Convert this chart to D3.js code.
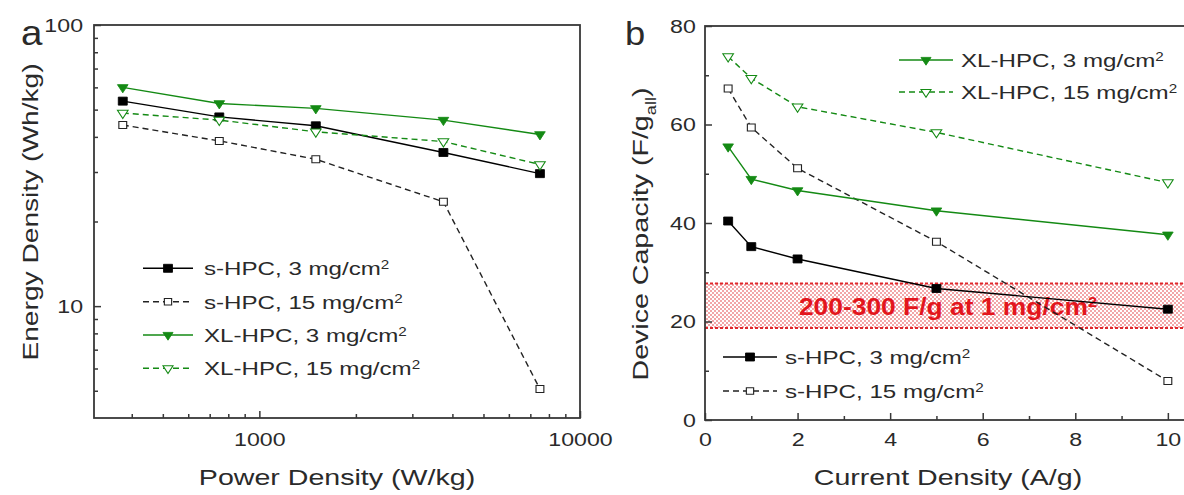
<!DOCTYPE html>
<html>
<head>
<meta charset="utf-8">
<script src="https://cdn.jsdelivr.net/npm/d3@7"></script>
<style>
  body { margin: 0; background: #fff; }
  svg { display: block; font-family: "Liberation Sans", Arial, sans-serif; }
</style>
</head>
<body>
<script>
// ---- Panel a: Ragone plot (log-log) ----
const powerDensity = [375, 750, 1500, 3750, 7500];          // W/kg
const energySHPC3  = [53.6, 47.1, 43.8, 35.2, 29.6];        // Wh/kg
const energySHPC15 = [44.1, 38.7, 33.3, 23.5, 5.07];
const energyXL3    = [60.0, 52.6, 50.5, 45.9, 40.8];
const energyXL15   = [48.6, 45.9, 41.7, 38.5, 31.9];
const powerTicks      = [1000, 10000];
const powerMinorTicks = [400, 500, 600, 700, 800, 900, 2000, 3000, 4000, 5000, 6000, 7000, 8000, 9000];
const energyTicks      = [10, 100];
const energyMinorTicks = [5, 6, 7, 8, 9, 20, 30, 40, 50, 60, 70, 80, 90];

// ---- Panel b: rate capability ----
const currentDensity = [0.5, 1, 2, 5, 10];                  // A/g
const capSHPC3  = [40.4, 35.2, 32.7, 26.7, 22.5];           // F/g_all
const capSHPC15 = [67.3, 59.4, 51.1, 36.2, 7.9];
const capXL3    = [55.5, 48.9, 46.6, 42.5, 37.6];
const capXL15   = [73.8, 69.4, 63.6, 58.4, 48.2];
const currentTicks      = [0, 2, 4, 6, 8, 10];
const currentMinorTicks = [1, 3, 5, 7, 9];
const capTicks      = [0, 20, 40, 60, 80];
const capMinorTicks = [10, 30, 50, 70];
const refBand  = [18.7, 27.7];
const refLabel = "200-300 F/g at 1 mg/cm";

const seriesNames = ["s-HPC, 3 mg/cm", "s-HPC, 15 mg/cm", "XL-HPC, 3 mg/cm", "XL-HPC, 15 mg/cm"];

const GREEN = "#148a14";
const INK = "#2a2a2a";
const AXIS = "#383838";
const styles = [
  { color: "#000", dash: null,  marker: "square",   filled: true  },
  { color: "#222", dash: "6,4", marker: "square",   filled: false },
  { color: GREEN,  dash: null,  marker: "triangle", filled: true  },
  { color: GREEN,  dash: "6,4", marker: "triangle", filled: false }
];

const W = 1184, H = 495;
const svg = d3.select("body").append("svg").attr("width", W).attr("height", H);

// dotted fill for the reference band
const pat = svg.append("defs").append("pattern")
  .attr("id", "dots").attr("patternUnits", "userSpaceOnUse")
  .attr("width", 4).attr("height", 4);
pat.append("rect").attr("width", 4).attr("height", 4).attr("fill", "#fff");
pat.append("circle").attr("cx", 1).attr("cy", 1).attr("r", 0.8).attr("fill", "#e2343a");
pat.append("circle").attr("cx", 3).attr("cy", 3).attr("r", 0.8).attr("fill", "#e2343a");

// text helper: wide glyphs via a horizontal scale along the text direction
function label(g, x, y, parts, o = {}) {
  const t = g.append("text")
    .attr("transform", `translate(${x},${y}) rotate(${o.rotate || 0}) scale(${o.sx || 1.25},1)`)
    .attr("font-size", o.size || 19)
    .attr("font-weight", o.weight || "normal")
    .attr("fill", o.fill || INK)
    .attr("text-anchor", o.anchor || "start");
  parts.forEach(p => {
    if (typeof p === "string") t.append("tspan").text(p);
    else t.append("tspan").attr("baseline-shift", p.shift).attr("font-size", p.size).text(p.text);
  });
  return t;
}

function marker(g, x, y, st, size) {
  const isSq = st.marker === "square";
  const s = size || (isSq ? (st.filled ? 8 : 7) : 9.5);
  const type = isSq ? d3.symbolSquare : d3.symbolTriangle;
  const area = isSq ? s * s : s * s * Math.sqrt(3) / 4;
  g.append("path")
    .attr("d", d3.symbol().type(type).size(area)())
    .attr("transform", `translate(${x},${y}) scale(1.12,1) rotate(${isSq ? 0 : 180})`)
    .attr("fill", st.filled ? st.color : "#fff")
    .attr("stroke", st.color)
    .attr("stroke-width", st.filled ? 0.8 : 1);
}

function drawSeries(g, xs, ys, xScale, yScale, st) {
  const pts = xs.map((d, i) => [xScale(d), yScale(ys[i])]);
  g.append("path").attr("d", d3.line()(pts))
    .attr("fill", "none").attr("stroke", st.color).attr("stroke-width", 1.4)
    .attr("stroke-dasharray", st.dash);
  pts.forEach(p => marker(g, p[0], p[1], st));
}

function legendRow(g, x0, x1, y, st, name, textX) {
  g.append("line").attr("x1", x0).attr("x2", x1).attr("y1", y).attr("y2", y)
    .attr("stroke", st.color).attr("stroke-width", 1.4).attr("stroke-dasharray", st.dash);
  marker(g, (x0 + x1) / 2, y, st, st.marker === "square" ? (st.filled ? 8 : 6.5) : 9);
  label(g, textX, y + 7, [name, { text: "2", shift: "super", size: 12 }], { size: 19, sx: 1.27 });
}

function styleAxis(ax, sx) {
  ax.select(".domain").remove();
  ax.selectAll("line").attr("stroke", AXIS).attr("stroke-width", 1.5);
  ax.selectAll("text").attr("font-size", 19).attr("fill", INK)
    .attr("font-family", '"Liberation Sans", Arial, sans-serif')
    .attr("transform", `scale(${sx},1)`);
}

function axes(g, xScale, yScale, left, top, right, bottom, xt, xm, yt, ym, fmt, padX, padY) {
  const gx = g.append("g").attr("transform", `translate(0,${bottom})`)
    .call(d3.axisBottom(xScale).tickValues(xt).tickFormat(fmt).tickSizeInner(-7).tickSizeOuter(0).tickPadding(padX));
  styleAxis(gx, 1.22);
  const gxm = g.append("g").attr("transform", `translate(0,${bottom})`)
    .call(d3.axisBottom(xScale).tickValues(xm).tickFormat("").tickSizeInner(-4).tickSizeOuter(0));
  styleAxis(gxm, 1);
  const gy = g.append("g").attr("transform", `translate(${left},0)`)
    .call(d3.axisLeft(yScale).tickValues(yt).tickFormat(fmt).tickSizeInner(-7).tickSizeOuter(0).tickPadding(padY));
  styleAxis(gy, 1.22);
  const gym = g.append("g").attr("transform", `translate(${left},0)`)
    .call(d3.axisLeft(yScale).tickValues(ym).tickFormat("").tickSizeInner(-4).tickSizeOuter(0));
  styleAxis(gym, 1);
  g.append("rect").attr("x", left).attr("y", top)
    .attr("width", right - left).attr("height", bottom - top)
    .attr("fill", "none").attr("stroke", AXIS).attr("stroke-width", 1.8);
}

// ================= Panel a =================
const A = { left: 94, right: 580, top: 25, bottom: 418 };
const xA = d3.scaleLog().domain([305, 10000]).range([A.left, A.right]);
const yA = d3.scaleLog().domain([4, 100]).range([A.bottom, A.top]);
const ga = svg.append("g");

axes(ga, xA, yA, A.left, A.top, A.right, A.bottom,
  powerTicks, powerMinorTicks, energyTicks, energyMinorTicks, d3.format("d"), 15, 9);

const energySeries = [energySHPC3, energySHPC15, energyXL3, energyXL15];
[1, 0, 3, 2].forEach(i => drawSeries(ga, powerDensity, energySeries[i], xA, yA, styles[i]));

const legA = [268.3, 301.7, 335, 368.3];
styles.forEach((st, i) => legendRow(ga, 143, 193, legA[i], st, seriesNames[i], 204));

label(ga, 337, 485, ["Power Density (W/kg)"], { size: 22, sx: 1.3, anchor: "middle" });
label(ga, 38, 212, ["Energy Density (Wh/kg)"], { size: 22, sx: 1.28, anchor: "middle", rotate: -90 });
label(ga, 21, 45, ["a"], { size: 35, sx: 1.1 });

// ================= Panel b =================
const B = { left: 705, right: 1191, top: 26, bottom: 420 };
const xB = d3.scaleLinear().domain([0, 10.5]).range([B.left, B.right]);
const yB = d3.scaleLinear().domain([0, 80]).range([B.bottom, B.top]);
const gb = svg.append("g");

// reference band (capacity range reported at low loading)
gb.append("rect")
  .attr("x", xB(0)).attr("width", xB(10.5) - xB(0))
  .attr("y", yB(refBand[1])).attr("height", yB(refBand[0]) - yB(refBand[1]))
  .attr("fill", "url(#dots)");
refBand.forEach(v => gb.append("line")
  .attr("x1", xB(0)).attr("x2", xB(10.5)).attr("y1", yB(v)).attr("y2", yB(v))
  .attr("stroke", "#e0262b").attr("stroke-width", 2).attr("stroke-dasharray", "3,2"));
label(gb, 948, 315, [refLabel, { text: "2", shift: "super", size: 15 }],
  { size: 24, sx: 1.1, weight: "bold", fill: "#e3161d", anchor: "middle" });

axes(gb, xB, yB, B.left, B.top, B.right, B.bottom,
  currentTicks, currentMinorTicks, capTicks, capMinorTicks, d3.format("d"), 13, 7.5);

const capSeries = [capSHPC3, capSHPC15, capXL3, capXL15];
[1, 0, 3, 2].forEach(i => drawSeries(gb, currentDensity, capSeries[i], xB, yB, styles[i]));

legendRow(gb, 899, 953, 60, styles[2], seriesNames[2], 961);
legendRow(gb, 899, 953, 92, styles[3], seriesNames[3], 961);
legendRow(gb, 723, 777, 357, styles[0], seriesNames[0], 785);
legendRow(gb, 723, 777, 391, styles[1], seriesNames[1], 785);

label(gb, 948, 485, ["Current Density (A/g)"], { size: 22, sx: 1.3, anchor: "middle" });
label(gb, 648, 234, ["Device Capacity (F/g", { text: "all", shift: "sub", size: 14 }, ")"],
  { size: 22, sx: 1.3, anchor: "middle", rotate: -90 });
label(gb, 625, 45, ["b"], { size: 33, sx: 1.1 });
</script>
</body>
</html>
